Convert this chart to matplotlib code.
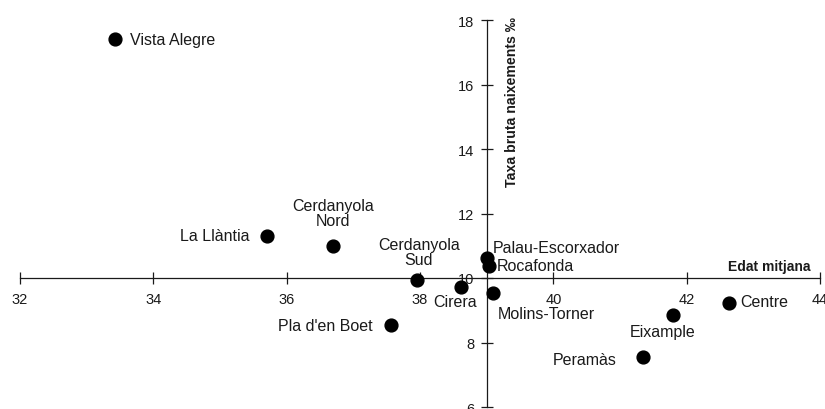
import matplotlib.pyplot as plt

plt.rcParams['font.family'] = ['Liberation Sans', 'DejaVu Sans']

# Barris: edat mitjana vs taxa bruta de naixements
barris = ["Vista Alegre", "La Llàntia", "Cerdanyola\nNord", "Cerdanyola\nSud",
          "Pla d'en Boet", "Cirera", "Palau-Escorxador", "Rocafonda",
          "Molins-Torner", "Eixample", "Centre", "Peramàs"]
edat = [33.43, 35.70, 36.69, 37.95, 37.56, 38.62, 39.0, 39.03, 39.1, 41.79, 42.63, 41.35]
taxa = [17.41, 11.31, 11.0, 9.95, 8.53, 9.73, 10.63, 10.38, 9.52, 8.84, 9.21, 7.54]

# label placement (offset in pixels, alignment)
offsets = [(15, 0, 'left', 'center'), (-17, 0, 'right', 'center'),
           (0, 18, 'center', 'bottom'), (2, 13, 'center', 'bottom'),
           (-18, 0, 'right', 'center'), (16, -15, 'right', 'center'),
           (6, 10, 'left', 'center'), (8, 0, 'left', 'center'),
           (4, -20, 'left', 'center'), (-10, -16, 'center', 'center'),
           (12, 2, 'left', 'center'), (-27, -2, 'right', 'center')]

fig = plt.figure(figsize=(8.25, 4.1), dpi=100)
ax = fig.add_axes([20 / 825, 2 / 410, 800 / 825, 387 / 410])

ax.scatter(edat, taxa, s=85, color='black', zorder=3, clip_on=False)

for name, x, y, (dx, dy, ha, va) in zip(barris, edat, taxa, offsets):
    ax.annotate(name, (x, y), xytext=(dx, dy), textcoords='offset pixels',
                ha=ha, va=va, multialignment='center', fontsize=11.5, color='#1a1a1a',
                linespacing=1.0)

ax.set_xlim(32, 44)
ax.set_ylim(6, 18)
ax.set_xticks([32, 34, 36, 38, 40, 42, 44])
ax.set_yticks([6, 8, 10, 12, 14, 16, 18])

ax.spines['left'].set_position(('data', 39))
ax.spines['bottom'].set_position(('data', 10))
ax.spines['right'].set_visible(False)
ax.spines['top'].set_visible(False)
for s in ['left', 'bottom']:
    ax.spines[s].set_linewidth(0.9)
    ax.spines[s].set_color('#1a1a1a')

ax.tick_params(direction='inout', length=8, width=0.9, labelsize=10.5, colors='#1a1a1a')
ax.tick_params(axis='x', pad=6)
ax.tick_params(axis='y', pad=5)

ax.text(0.9875, 0.364, "Edat mitjana", transform=ax.transAxes, ha='right', va='center',
        fontsize=10, fontweight='bold', color='#1a1a1a')
ax.text(0.615, 1.01, "Taxa bruta naixements ‰", transform=ax.transAxes, rotation=90,
        ha='center', va='top', fontsize=10.2, fontweight='bold', color='#1a1a1a')

fig.savefig("out.png", dpi=100)
